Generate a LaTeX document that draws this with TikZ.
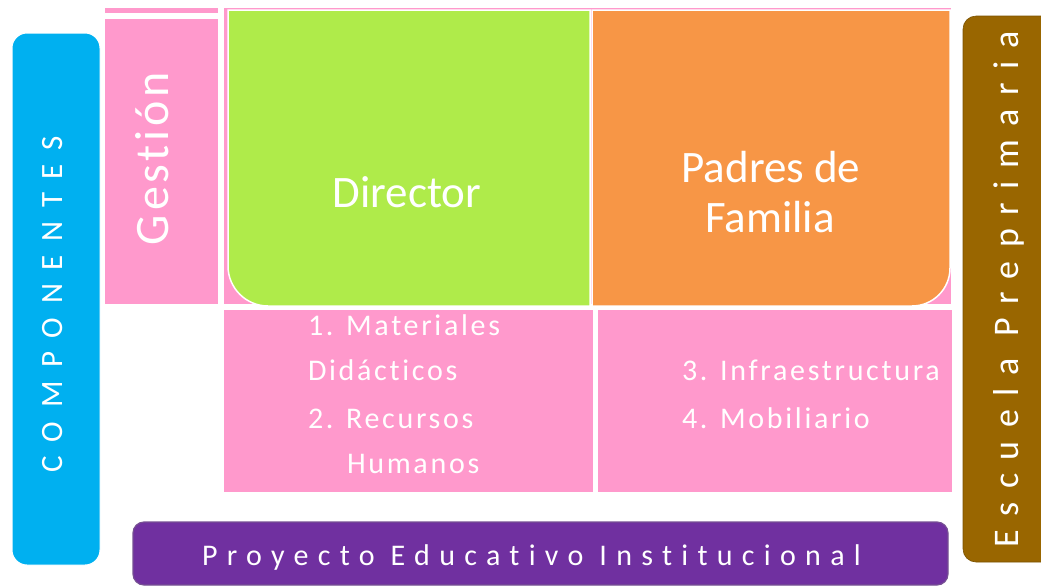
\documentclass[tikz,border=0pt]{standalone}
\usepackage{fontspec}
\setmainfont{Carlito}[Ligatures=NoCommon]
\definecolor{pinkc}{HTML}{FF99CC}
\definecolor{greenc}{HTML}{AFEB4A}
\definecolor{orangec}{HTML}{F79646}
\definecolor{bluec}{HTML}{00B0F0}
\definecolor{brownc}{HTML}{996600}
\definecolor{purplec}{HTML}{7030A0}
\begin{document}
\begin{tikzpicture}[x=1pt,y=-1pt,
  txt/.style={text=white, inner sep=0pt, outer sep=0pt},
  big/.style={txt, font=\fontsize{45}{50}\selectfont},
  hand/.style={txt, anchor=base west, font=\fontsize{30}{34}\selectfont\addfontfeature{LetterSpace=9}},
  panel/.style={fill=pinkc, draw=none}
]
\useasboundingbox (0,0) rectangle (1041,587);
\clip (0,0) rectangle (1041,587);
% background pink panels
\fill[pinkc] (105,8) rectangle (218,13);
\fill[pinkc] (105,19) rectangle (218,304);
\fill[pinkc] (224,8) rectangle (951,304);
\fill[pinkc] (224,310) rectangle (593,492);
\fill[pinkc] (598,310) rectangle (952,492);
% director (green) with rounded bottom-left corner
\draw[white, line width=1.5pt, fill=greenc]
  (228,10) -- (590,10) -- (590,306) -- (268,306)
  .. controls (246,306) and (228,288) .. (228,266) -- cycle;
% padres (orange) with rounded bottom-right corner
\draw[white, line width=1.5pt, fill=orangec]
  (592,10) -- (950,10) -- (950,268)
  .. controls (950,289) and (933,306) .. (912,306) -- (592,306) -- cycle;
% side bars
\draw[white, line width=1pt, fill=bluec, rounded corners=15pt] (12,33) rectangle (100,565);
\draw[brownc!80!black, line width=0.6pt, fill=brownc, rounded corners=13pt] (963,16) rectangle (1060,562);
\draw[purplec!60!gray, line width=1.2pt, fill=purplec, rounded corners=11pt] (133,522) rectangle (948,585);
% texts
\node[big, anchor=base] (dir) at (407,207) {Director};
\node[big, anchor=base] (pad1) at (771,182) {Padres de};
\node[big, anchor=base] (pad2) at (770,232) {Familia};
\node[txt, rotate=90, anchor=base west, font=\fontsize{48}{52}\selectfont\addfontfeature{LetterSpace=8}] (ges) at (168,245) {Gestión};
\node[txt, rotate=90, anchor=base west, font=\fontsize{31}{34}\selectfont\addfontfeature{LetterSpace=44}] (comp) at (62,472) {COMPONENTES};
\node[txt, rotate=90, anchor=base west, font=\fontsize{36}{40}\selectfont\addfontfeature{LetterSpace=37}] (esc) at (1018,547) {Escuela Preprimaria};
\node[txt, anchor=base west, font=\fontsize{30}{34}\selectfont\addfontfeature{LetterSpace=31}] (pei) at (202,565) {Proyecto Educativo Institucional};
\node[hand] (m1) at (308,335) {1. Materiales};
\node[hand] (m2) at (308,380) {Didácticos};
\node[hand] (m3) at (308,428) {2. Recursos};
\node[hand] (m4) at (347,473) {Humanos};
\node[hand] (m5) at (682,380) {3. Infraestructura};
\node[hand] (m6) at (682,428) {4. Mobiliario};
\end{tikzpicture}
\end{document}
